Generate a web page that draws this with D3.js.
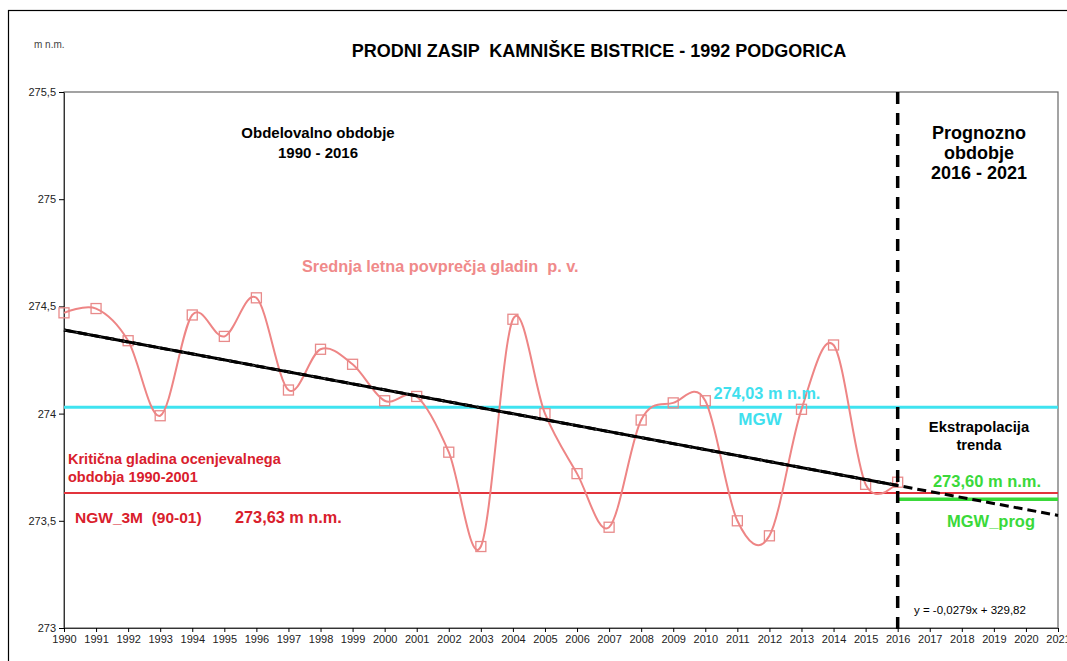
<!DOCTYPE html>
<html><head><meta charset="utf-8">
<script src="https://cdn.jsdelivr.net/npm/d3@7"></script>
<style>body{margin:0;background:#fff;font-family:Arial,"Liberation Sans",sans-serif;} text{white-space:pre;}</style>
</head><body>
<svg id="c" width="1067" height="661"></svg>
<script>
const years = [1990,1991,1992,1993,1994,1995,1996,1997,1998,1999,2000,2001,2002,2003,2004,2005,2006,2007,2008,2009,2010,2011,2012,2013,2014,2015,2016];
const levels = [274.47,274.49,274.34,273.99,274.46,274.36,274.54,274.11,274.30,274.23,274.06,274.08,273.82,273.38,274.44,274.00,273.72,273.47,273.97,274.05,274.06,273.50,273.43,274.02,274.32,273.67,273.68];
const xTicks = [1990,1991,1992,1993,1994,1995,1996,1997,1998,1999,2000,2001,2002,2003,2004,2005,2006,2007,2008,2009,2010,2011,2012,2013,2014,2015,2016,2017,2018,2019,2020,2021];
const yTicks = [273,273.5,274,274.5,275,275.5];
const mgw = 274.03, ngw = 273.63, mgwProg = 273.60;
const trendStart = 274.39, trendSlope = -0.0279;
const splitYear = 2016, endYear = 2021;

const svg = d3.select("#c");
const L = 64, R = 1058, T = 92, B = 628;
const x = d3.scaleLinear().domain([1990, 2021]).range([L, R]);
const y = d3.scaleLinear().domain([273, 275.5]).range([B, T]);
const fmt = d => String(d).replace(".", ",");

// outer frame
svg.append("rect").attr("x", 8.5).attr("y", 10.5).attr("width", 1080).attr("height", 700)
  .attr("fill", "none").attr("stroke", "#000").attr("stroke-width", 1.2);
// plot frame
svg.append("rect").attr("x", L).attr("y", T).attr("width", R - L).attr("height", B - T)
  .attr("fill", "none").attr("stroke", "#666").attr("stroke-width", 1.2);

// axes
const ya = svg.append("g").attr("transform", `translate(${L},0)`)
  .call(d3.axisLeft(y).tickValues(yTicks).tickFormat(fmt).tickSize(5).tickSizeOuter(0));
ya.select(".domain").attr("stroke", "#333");
ya.selectAll("text").attr("font-size", 11).attr("fill", "#222").attr("font-family", "Arial, Liberation Sans");
const xa = svg.append("g").attr("transform", `translate(0,${B})`)
  .call(d3.axisBottom(x).tickValues(xTicks).tickFormat(d => d).tickSize(4).tickSizeOuter(0));
xa.select(".domain").attr("stroke", "#333");
xa.selectAll("text").attr("font-size", 11).attr("fill", "#222").attr("dy", "0.75em").attr("font-family", "Arial, Liberation Sans");

// horizontal reference lines
svg.append("line").attr("x1", x(1990)).attr("x2", R).attr("y1", y(mgw)).attr("y2", y(mgw))
  .attr("stroke", "#3fe3f0").attr("stroke-width", 3);
svg.append("line").attr("x1", x(1990)).attr("x2", R).attr("y1", y(ngw)).attr("y2", y(ngw))
  .attr("stroke", "#e2343c").attr("stroke-width", 2);
svg.append("line").attr("x1", x(splitYear)).attr("x2", R).attr("y1", y(mgwProg)).attr("y2", y(mgwProg))
  .attr("stroke", "#3ad93a").attr("stroke-width", 3.5);

// data curve
const pts = years.map((yr, i) => [yr, levels[i]]);
svg.append("path").datum(pts)
  .attr("d", d3.line().x(d => x(d[0])).y(d => y(d[1])).curve(d3.curveCardinal.tension(0)))
  .attr("fill", "none").attr("stroke", "#ee8585").attr("stroke-width", 2);
svg.selectAll("rect.pt").data(pts).join("rect").attr("class", "pt")
  .attr("x", d => x(d[0]) - 5).attr("y", d => y(d[1]) - 5).attr("width", 10).attr("height", 10)
  .attr("fill", "none").attr("stroke", "#e88a8a").attr("stroke-width", 1.3);

// trend
const trend = yr => trendStart + trendSlope * (yr - 1990);
svg.append("line").attr("x1", x(1990)).attr("y1", y(trend(1990))).attr("x2", x(splitYear)).attr("y2", y(trend(splitYear)))
  .attr("stroke", "#000").attr("stroke-width", 3);
svg.append("line").attr("x1", x(1990)).attr("y1", y(trend(1990))).attr("x2", x(endYear)).attr("y2", y(trend(endYear)))
  .attr("stroke", "#000").attr("stroke-width", 3).attr("stroke-dasharray", "9,5");
svg.append("line").attr("x1", x(1990)).attr("y1", y(trend(1990))).attr("x2", x(splitYear)).attr("y2", y(trend(splitYear)))
  .attr("stroke", "#666").attr("stroke-width", 0.8).attr("stroke-dasharray", "2,10");

// vertical split
svg.append("line").attr("x1", x(splitYear)).attr("x2", x(splitYear)).attr("y1", T).attr("y2", B + 4)
  .attr("stroke", "#000").attr("stroke-width", 3.5).attr("stroke-dasharray", "12,9");

// texts
function txt(s, px, py, o) {
  o = o || {};
  return svg.append("text").attr("x", px).attr("y", py).text(s)
    .attr("font-size", o.size || 15).attr("font-weight", o.w || "bold")
    .attr("fill", o.fill || "#000").attr("text-anchor", o.anchor || "start")
    .attr("font-family", "Arial, Liberation Sans, sans-serif");
}
txt("m n.m.", 34, 48, {size: 10, w: "normal", fill: "#444"});
txt("PRODNI ZASIP  KAMNIŠKE BISTRICE - 1992 PODGORICA", 599, 57, {size: 18, anchor: "middle"});
txt("Obdelovalno obdobje", 318, 138, {size: 15, anchor: "middle"});
txt("1990 - 2016", 318, 158, {size: 15, anchor: "middle"});
txt("Prognozno", 979, 139, {size: 18, anchor: "middle"});
txt("obdobje", 979, 159, {size: 18, anchor: "middle"});
txt("2016 - 2021", 979, 179, {size: 18, anchor: "middle"});
txt("Srednja letna povprečja gladin  p. v.", 302, 272, {size: 16.3, fill: "#f08a8a"});
txt("274,03 m n.m.", 767, 399, {size: 16.3, fill: "#3fe0ee", anchor: "middle"});
txt("MGW", 760, 425, {size: 17, fill: "#3fe0ee", anchor: "middle"});
txt("Kritična gladina ocenjevalnega", 68, 464, {size: 14.5, fill: "#d9202c"});
txt("obdobja 1990-2001", 68, 482, {size: 14.5, fill: "#d9202c"});
txt("NGW_3M  (90-01)", 75, 523, {size: 15.5, fill: "#d9202c"});
txt("273,63 m n.m.", 235, 523, {size: 16.3, fill: "#d9202c"});
txt("Ekstrapolacija", 979, 432, {size: 14.8, anchor: "middle"});
txt("trenda", 979, 450, {size: 14.8, anchor: "middle"});
txt("273,60 m n.m.", 987, 487, {size: 16.5, fill: "#3ad93a", anchor: "middle"});
txt("MGW_prog", 991, 527, {size: 16.5, fill: "#3ad93a", anchor: "middle"});
txt("y = -0,0279x + 329,82", 914, 614, {size: 11.5, w: "normal"});
</script>
</body></html>
